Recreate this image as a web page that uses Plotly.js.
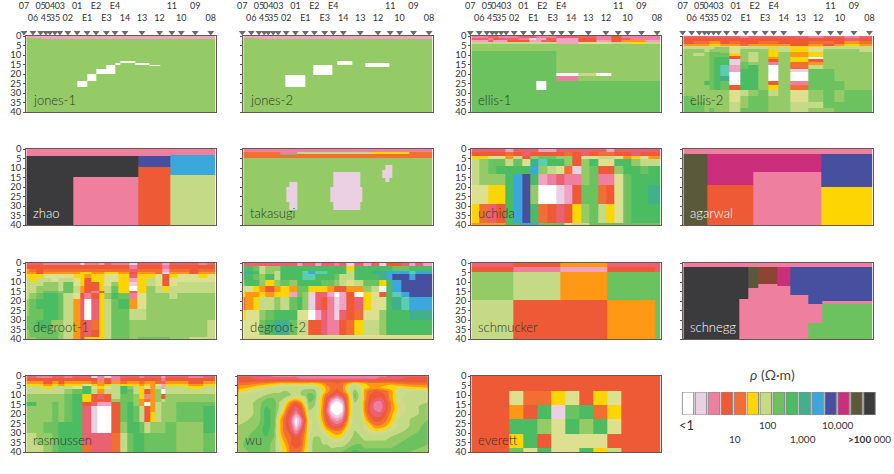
<!DOCTYPE html>
<html><head><meta charset="utf-8">
<script src="https://cdn.plot.ly/plotly-3.0.1.min.js"></script>
<style>html,body{margin:0;padding:0;background:#fff}#c{width:894px;height:474px}</style>
</head><body><div id="c"></div>
<script>
// ---- resistivity classes (letter -> colour), ordered from conductive to resistive
const classLetters = "WLKPRONAYESGHIJTBDMVXC";
const classColors = ["#FFFFFF","#EBD0E3","#F3A2C6","#EE7F9F","#EC6172","#EF5A36","#F36E32","#FF9814","#FDD500","#DDE08E","#C5DA86","#94CB66","#6CC25E","#4CBC63","#42B08B","#5CCDB0","#3BA8DD","#46509F","#CB2E7A","#5A5A3A","#3B3A3C","#8E4433"];

// ---- stations
const stationNames = ["07","06","05","45","04","35","03","02","01","E1","E2","E3","E4","14","13","12","11","10","09","08"];
const stationPos = [0,9,16.7,22,26,31,36,44,53.3,63.3,72.3,82.7,91.3,101.3,118.3,136,148.3,157.7,171.7,187.3];
const stationUpper = ["07","05","04","03","01","E2","E4","11","09"];

// ---- panels: x edges, depth edges, class rows
const jones1X=[0,15,51,61,70,80,89,94,109,123,134,190];
const jones1Y=[0,1,1.5,13,14,15,16,17.5,20,23.5,27,40];
const jones1Rows=["KKKKKKKKKKK","GKKKKKKKKKK","GGGGGGGGGGG","GGGGGGGWGGG","GGGGGGWGWGG","GGGGGWGGGWG","GGGGGWGGGGG","GGGGWWGGGGG","GGGWGGGGGGG","GGWGGGGGGGG","GGGGGGGGGGG"];

const jones2X=[0,15,42,62,70,89,94,109,122,146,190];
const jones2Y=[0,1,1.5,13.2,14,15.3,16.3,20.3,27,40];
const jones2Rows=["KKKKKKKKKK","GKKKKKKKKK","GGGGGGGGGG","GGGGGGWGGG","GGGGGGWGWG","GGGGWGGGWG","GGGGWGGGGG","GGWGGGGGGG","GGGGGGGGGG"];

const ellis1X=[0,8,17,22,27,36,47,58,65,70,75,80,85,97,107,125,140,150,160,175,190];
const ellis1Y=[0,1,2,3,4,8,19.3,21,23.5,28.4,40];
const ellis1Rows=["PPRRPPRRPPPPRRRPOPPP","RRPORRPLKKORKKOPORPP","KKRKKOOKKRROKKOKOAAK","SSSSSSSSSSSSKKEESSYS","GGGGGGGGGGGGGGGGGGGG","HHHHHHHHHHHHGGGGGGGG","HHHHHHHHHHHHWWSWGGGG","HHHHHHHHHHHHPPGGGGGG","HHHHHHHHWWHHHHHHHHHH","HHHHHHHHHHHHHHHHHHHH"];

const ellis2X=[0,10,21,26,31,37,46,57,65,75,85,95,107,125,140,151,162,177,190];
const ellis2Y=[0,1,2.5,4,5,6,7,8.3,9,10.5,11,12.3,13.7,15.4,17.5,19,21,23.5,26,28.4,31.6,34.6,38,40];
const ellis2Rows=["RRRRRRRPRRRRRPRRPR","OOOOOOOOOOOOOOOORO","ONNAAONOONNOONNOAN","AAAYYAANAAAAOAOAYA","SSSSSSEESSYSYYSSSS","SSSSGGESSSSSYESSSS","GGSGGGEGGGYSYEGGGS","GGGHHGEGSGYGAYGGGG","GSGHHHYGSGYGAYGGGG","GGGHHHOGSGYGAYGGGG","GGGHIIOGSGAGYWGGGG","GGGHIILGSGOGYOGGGG","GGGHIILHGGPGNAGGGG","GGGHITKHIGWGNSGGGG","GGGHITKIIGWGLHHGGG","GGGHITWIIGWGWHHGGG","GGGHIJWIIGWGWHHGGG","GGIHIHWIIGOGPHHHGG","GGGHIHOIIGYGNHHHGG","GGGGGGESGHSGEGHGHH","HGGGGGEGHHGGEGHGHH","HHGGGGSGHHGGSSHHHH","HHGHGGSHHHGGSGGHHH"];

const zhaoX=[0,47,112,144,190];
const zhaoY=[0,3,3.5,9.5,13.5,14.5,40];
const zhaoRows=["PPPP","PPPB","XXDB","XXOB","XXOS","XPOS"];

const takasugiX=[0,37,43,46,51,54,87,90,117,119,128,139,142,146,149,167,190];
const takasugiY=[0,1.5,2.5,3,4.5,8.3,11,12.3,15,17.6,20,25,28,32,40];
const takasugiRows=["PPPPPPPPPPPPPPPP","NPPPPSSSSSYYYYYN","NHHHHNNNNNNNNNNN","NNNNNNNNNNNNNNNN","GGGGGGGGGGGGGGGG","GGGGGGGGGGGGLLGG","GGGGGGGGGGGLLLGG","GGGGGGGLGGGLLLGG","GGGGGGGLGGGGLGGG","GGGLLGGLGGGGGGGG","GGLLLGLLLGGGGGGG","GGLLLGLLLGGGGGGG","GGGLLGGLGGGGGGGG","GGGGGGGGGGGGGGGG"];

const uchidaX=[0,8.3,17,25,33.7,42,50.7,59,67.7,76.3,85,93,101.7,110.3,118.7,127,135.3,143.7,152.3,161,169.3,177.7,190];
const uchidaY=[0,1.4,3.5,5.2,9.2,13.2,19,29,39,40];
const uchidaRows=["RRRRKRRRKKRRRRRRKRRRRR","OOOONOROOOONORONNOOROO","YYEEASOGHHGGOEESSEAYEA","SGHHSHEJTIIGOGIEEIIGSS","SGHIIIIBGSENLGHOOGIIHI","SGGGIBDIKPRPPGHPPEHIII","EEYYIBDGWWLKOHHNOEHIIJ","YNROIBDINOROYGHSYEHIII","AAAAIIBBHHHESSHHHHHHHH"];

const agarwalX=[0,24.5,70,138,190];
const agarwalY=[0,2.6,12.3,18.8,20,40];
const agarwalRows=["PPPP","VMMD","VMPD","VOPD","VOPY"];

const degroot1X=[0,3,10,17.3,24.7,31.7,37.3,46.7,53.7,58.3,65.7,73,78.3,85,92.3,103,111.7,120.3,129,136.3,143,151,164,172.3,181.3,190];
const degroot1Y=[0,1.2,3,4.5,6,8,10,12,14.7,16,19,24,28,30,35,39,40];
const degroot1Rows=["RRRPPPPPLPPKRPPLRRRKRRRPR","OOOOOOOOOOOOOOOPOOOPOOOOO","ANONNNNNNNNNNNNRNNNKNNONN","AAOAAAAAYYAAYYAOAANLAAOAA","YYYEEEEYYAYYEEYRYYEOYEEYE","SYSSESSEYOYYEEYKYSEOEEEEE","SSSGGSHEYOOYEGYLYSEOESSSS","SSGGGSHSAOOYSHYWYGSYSSSSS","SSGHHGHSAOPOSHYRYGSSSSSSS","SGHIIHSEOPOYGIHPEGGGSGGGG","GHIIIHSARWRYSHIAEGGGGGGGG","GHHIIHSARWRYSHHSSGGGGGGGG","HHHIIHSARWRYSHHSSGGGGGGGG","HHIIGGSAORNYSHHGGGGGGGGGS","GHHHHGSAOROYSHHGGGGGGGGGS","GGHHHGSAOYYYSHHGHHHHGGSSS"];

const degroot2X=[0,2,10.3,16.3,22,31.3,37.3,46.3,54,58.7,65.3,72,78,84.7,91.3,96,103,111.3,120.7,128.7,136.3,143,149.7,158,166.3,173,180.7,190];
const degroot2Y=[0,1.5,4,6,9,12,15,18,24.5,30,38,40];
const degroot2Rows=["RRRRRRRRKRRKRRPRLRKRLOORKRK","IIHSGGIIIIIIIIIIYIIIIIHHIII","JJISGSIIITBTTIIISIIJJBBBTBB","JIHGISIIITTIIIHSSIIIJBDDBDD","HIIGYGHGIIIIHHGSESHHYIBDDDD","SEYAOAYAHHYYYAOOAAGSWIBDDDD","YAAYAYYKHGLRRKWKOWYEOITBDDD","NAYSSGSHIGLROPLKORYEEIJTBBB","YEEGHIIIEEWKRPLRONEEGIIIJJJ","EEEHIJJHSSOORPPONYSSGIIIIII","EEEEEEEEEEEEEEEEEEEEEEEEEEE"];

const schmuckerX=[0,42,89.3,136.3,184.3,190];
const schmuckerY=[0,2.1,4.8,19.6,40];
const schmuckerRows=["ROARR","OPKOR","GSAHH","SOOAH"];

const scheneggX=[0,56,65.7,75,94,107.3,125,139.3,190];
const scheneggY=[0,2.2,10.8,12.2,13,17,19,20,21.4,21.8,31.5,40];
const scheneggRows=["PPPPPPPP","XXVCMDDD","XXVPMDDD","XXVPPDDD","XXPPPDDD","XXPPPPDD","XPPPPPDD","XPPPPPDP","XPPPPPDH","XPPPPPPH","XPPPPPHH"];

const rasmussenX=[0,9.7,17.3,26.3,32.3,38.3,46.3,55.7,65,71.7,78.3,85,94,101.7,107,113,118.3,124.3,129.7,135,139.7,150.7,162.3,177.3,190];
const rasmussenY=[0,1,2.5,4,5.5,7,9.5,12,13.5,16,19,24,30,36.5,40];
const rasmussenRows=["RPPRRPRRLPLPRRRPRRRKRRPR","OOOOOOOOOPOPOOOOOOOPOOOO","AAOAOAAANAOANAANAANRAAOA","YYAYAYYEYAYSYYYAYAEKYYAY","SSYSSSEIEYESIGSYEASKSSYS","SSSSSGHISASSIHSYOAGWSSSS","GGGGGHIYOROSHHGYPAGOGGGG","GGGGGHIYOOOGHHGANAGSGGGG","IGGHGHIORKKOHIGAWASGGHHH","GGGHGHIRLWWOHIHSOASGGHHI","GGGHGHIRLWWOHIHSOYSGGHHI","GGHHIIIRLWWOGIIHSGGGHGGI","SGGHIIIRRRRNSHIIHHHHHGGH","SSGHIIINRRRNSHIIHHHHHGGH"];

const everettX=[0,38,52,66,80,94,108,122,136.3,150.7,190];
const everettY=[0,7.8,15.2,22.8,30.3,37.7,40];
const everettRows=["OOOOOOOOOO","OENNYEOYEO","OAOILHINYO","OIIGEIGIEO","OYIOEEEEOO","OHEIEEIYSO"];

// wu: smooth model, class values on a grid (0 = white ... 13 = green)
const wuX=[0,10,20,28,36,41,45,49,53,58,63,67,71,76,81,85,89,94,99,104,108,112,117,123,127,132,137,142,147,153,160,172,190];
const wuY=[0,1,2.5,4,6,8,10,12,14,16,18,20,23,26,29,32,36,40];
const wuZ=[
[4,4,4,4,3,3,3,3,3,3,3,3,3,3,3,3,3,3,3,3,3,3,3,3,3,3,3,3,3,4,4,4,4],
[5,5,4,4,4,4,4,4,4,4,3,3,3,3,3,3,3,3,3,3,3,3,3,3,3,3,3,4,4,4,4,5,5],
[5,5,5,5,5,5,5,5,5,5,5,5,5,5,5,5,5,5,5,5,5,5,5,5,5,5,5,5,5,5,5,5,5],
[6,6,6.5,7,7.5,8,8,8,8,8,8,8,8,8,7.5,7,6,6,5.5,6,7,8,8.5,8,7.5,7,7,7,7,7,6.5,6,6],
[7,7.5,8.5,9,9.5,10,10,10,10,10,10,10,10,10,9,8,7,6,5.5,6,8,9.5,10,9,8,7.5,7.5,7.5,8,8.5,8.5,8,7.5],
[8,9,9.5,10,10,10,10.5,10.5,10.5,10.5,10.5,11,11,11,9.5,8.5,7,6,5,6,7.5,9.5,11,9.5,7,6,5.5,5.5,6,7,9,9.5,9.5],
[9.5,10,10,10.5,11,11,11,11,10.5,10.5,10.5,11,12,11.5,9.5,7.5,6,5,4,5,6,8.5,12,9.5,7,5.5,5,5,5.5,7,9,10,10],
[10,10,10.5,11.5,11.5,11,10.5,9.5,8.5,8,8.5,9.5,12,11.5,9,7,5,3,1.5,3,5.5,8,11.5,9.5,7,5,4.5,4,5,7,9,10,10.5],
[10,10,11,12,12,10.5,9.5,8,6.5,5.5,7,9,11.5,11,9,7,4.5,1,0,1,5,8,10.5,9.5,6.5,5,3.5,3,4.5,6.5,9,10,10.5],
[10,10,11,12.5,12,10.5,9,7,5.5,4.5,5.5,8,11,10.5,9,6.5,4,0,0,0,4.5,8,10.5,9.5,6.5,4.5,3,2.5,4.5,6.5,8.5,10,11],
[10,10,11,13,12,10,8.5,6,5,3.5,5,7,10.5,10.5,8.5,6.5,3.5,0,0,0,4.5,8,10.5,9.5,6.5,4.5,3.5,3,4.5,6.5,8.5,10,11],
[10,10,11,13,12,9.5,7.5,5.5,4.5,2.5,4.5,6.5,10.5,10.5,8.5,6.5,4,1,0,1,5,8,10.5,9.5,7,5,4,4,5,7,9,10,11],
[10,10.5,11,13,12,8,6.5,5,3.5,0,2.5,5.5,9,10,9,7,5,3,2,3,5.5,8.5,10.5,10,8,6,5,5,6,7.5,9.5,10.5,11.5],
[10.5,11,11.5,13,12,8,6.5,5,4,0.5,3,6,9,10,9.5,8,6,4.5,4,5,7,9,10.5,10,9,8,6.5,6.5,7,8.5,9.5,10.5,12],
[11,11,12,13,11.5,8,6.5,5.5,4.5,2.5,4.5,6.5,9,10,10,9,8,7,6.5,7,8.5,9.5,10.5,10,9.5,9,8.5,8.5,9,9.5,10,11,12],
[11,11.5,12,12.5,11.5,8.5,7,6,5.5,4.5,5.5,7,9.5,10.5,10.5,10,9.5,8.5,8,8.5,9.5,10,11,10.5,10,10,10,10,10,10.5,11,11.5,12],
[11,12,12,12,11,9,8,7,5.5,5,5.5,7.5,9.5,11,11,10.5,10.5,10,10,10,10.5,11,11.5,11.5,11,11,11,11,11,11,11.5,12,11.5],
[11,11.5,12,12,11,9.5,8.5,7.5,6,6,6.5,8,9.5,11,11,11,11,11,11.5,11.5,12,12.5,13,12.5,12,12,12,12,12,12,12,11.5,10.5]];

// ---- legend
const legendClasses = ["W","L","P","O","N","Y","S","H","I","J","B","D","M","V","X"];
const legendLabels = ["<1","10","100","1,000","10,000"];
const legendLabelAt = [0.5,3.6,6.2,8.9,11.5];

// ---- panel table
const panels=[
 {name:"jones-1",x:jones1X,y:jones1Y,rows:jones1Rows,col:0,row:0,ink:"#333"},
 {name:"jones-2",x:jones2X,y:jones2Y,rows:jones2Rows,col:1,row:0,ink:"#333"},
 {name:"ellis-1",x:ellis1X,y:ellis1Y,rows:ellis1Rows,col:2,row:0,ink:"#333"},
 {name:"ellis-2",x:ellis2X,y:ellis2Y,rows:ellis2Rows,col:3,row:0,ink:"#333"},
 {name:"zhao",x:zhaoX,y:zhaoY,rows:zhaoRows,col:0,row:1,ink:"#fff"},
 {name:"takasugi",x:takasugiX,y:takasugiY,rows:takasugiRows,col:1,row:1,ink:"#333"},
 {name:"uchida",x:uchidaX,y:uchidaY,rows:uchidaRows,col:2,row:1,ink:"#333"},
 {name:"agarwal",x:agarwalX,y:agarwalY,rows:agarwalRows,col:3,row:1,ink:"#fff"},
 {name:"degroot-1",x:degroot1X,y:degroot1Y,rows:degroot1Rows,col:0,row:2,ink:"#333"},
 {name:"degroot-2",x:degroot2X,y:degroot2Y,rows:degroot2Rows,col:1,row:2,ink:"#333"},
 {name:"schmucker",x:schmuckerX,y:schmuckerY,rows:schmuckerRows,col:2,row:2,ink:"#333"},
 {name:"schnegg",x:scheneggX,y:scheneggY,rows:scheneggRows,col:3,row:2,ink:"#fff"},
 {name:"rasmussen",x:rasmussenX,y:rasmussenY,rows:rasmussenRows,col:0,row:3,ink:"#333"},
 {name:"wu",x:wuX,y:wuY,z:wuZ,col:1,row:3,ink:"#333",left:238.3},
 {name:"everett",x:everettX,y:everettY,rows:everettRows,col:2,row:3,ink:"#333"}
];

const W=894,H=474,pw=189.4,ph=76;
const colLeft=[26.3,243.3,471.3,683.3], rowTop=[36,149,263,376];
const stationShift=[2.3,1,1,0.6];
const fontFam='Lato, "Open Sans", sans-serif';
const N=classColors.length;
const scaleOf=cols=>{const s=[];cols.forEach((c,i)=>{s.push([i/N,c]);s.push([(i+1)/N,c]);});return s;};
const scale=scaleOf(classColors);
const smoothScale=scaleOf(classColors.map(c=>c==="#DDE08E"?"#CEDC8A":c));

const traces=[],annotations=[],layout={width:W,height:H,margin:{l:0,r:0,t:0,b:0},paper_bgcolor:"#fff",plot_bgcolor:"#fff",showlegend:false,font:{family:fontFam,color:"#444"},annotations};
const frame="rgba(80,55,55,0.85)";

panels.forEach((p,i)=>{
  const k=i+1, xa="x"+(k>1?k:""), ya="y"+(k>1?k:"");
  const left=p.left||colLeft[p.col], top=rowTop[p.row];
  layout["xaxis"+(k>1?k:"")]={domain:[left/W,(left+pw)/W],range:[0,190],anchor:ya,showgrid:false,zeroline:false,showticklabels:false,ticks:"",showline:true,mirror:true,linecolor:frame,linewidth:1,fixedrange:true};
  layout["yaxis"+(k>1?k:"")]={domain:[1-(top+ph)/H,1-top/H],range:[40,0],anchor:xa,showgrid:false,zeroline:false,tickmode:"array",tickvals:[0,5,10,15,20,25,30,35,40],ticktext:["0","5","10","15","20","25","30","35","40"],showticklabels:p.col%2===0,ticks:"outside",ticklen:2,tickcolor:"#555",tickwidth:1,tickfont:{size:9.5,family:fontFam,color:"#333"},showline:true,mirror:true,linecolor:frame,linewidth:1,fixedrange:true};
  if(p.z){
    traces.push({type:"contour",x:p.x,y:p.y,z:p.z,xaxis:xa,yaxis:ya,autocontour:false,contours:{start:0.5,end:N-1.5,size:1,coloring:"fill",showlines:false},line:{width:0},colorscale:smoothScale,zmin:-0.5,zmax:N-0.5,showscale:false,hoverinfo:"skip"});
  } else {
    const z=p.rows.map(r=>r.split("").slice(0,p.x.length-1).map(c=>classLetters.indexOf(c)));
    traces.push({type:"heatmap",x:p.x,y:p.y,z,xaxis:xa,yaxis:ya,zsmooth:false,colorscale:scale,zmin:-0.5,zmax:N-0.5,showscale:false,hoverinfo:"skip"});
  }
  annotations.push({xref:xa,yref:ya,x:4.5,y:33.8,text:p.name,showarrow:false,xanchor:"left",yanchor:"middle",font:{size:13,family:fontFam,color:p.ink,weight:300}});
});

// station strips above the first row, on their own axes so that every point is in range
let ax=panels.length+1;
colLeft.forEach((left,c)=>{
  const xa="x"+ax, ya="y"+ax, pad=12;
  layout["xaxis"+ax]={domain:[(left-pad)/W,(left+pw+pad)/W],range:[-pad,190+pad],anchor:ya,visible:false,fixedrange:true};
  layout["yaxis"+ax]={domain:[1-36/H,1],range:[36,0],anchor:xa,visible:false,fixedrange:true};
  const xs=stationPos.map(v=>v-stationShift[c]);
  traces.push({type:"scatter",mode:"markers",x:xs,y:xs.map(()=>32.5),xaxis:xa,yaxis:ya,marker:{symbol:"triangle-down",size:6,color:"#6a6a6a"},hoverinfo:"skip"});
  traces.push({type:"scatter",mode:"text",x:xs,y:stationNames.map(n=>stationUpper.includes(n)?7:19),text:stationNames,textposition:"middle center",textfont:{size:9,family:fontFam,color:"#333"},xaxis:xa,yaxis:ya,hoverinfo:"skip"});
  ax++;
});

// legend swatches as bars on their own axes
const lk=ax;
layout["xaxis"+lk]={domain:[681.5/W,876/W],range:[-0.5,14.5],anchor:"y"+lk,visible:false,fixedrange:true};
layout["yaxis"+lk]={domain:[1-415/H,1-392/H],range:[0,1],anchor:"x"+lk,visible:false,fixedrange:true};
traces.push({type:"bar",x:legendClasses.map((c,i)=>i),y:legendClasses.map(()=>1),width:0.88,xaxis:"x"+lk,yaxis:"y"+lk,
  marker:{color:legendClasses.map(c=>classColors[classLetters.indexOf(c)]),line:{color:"#8a8a8a",width:1}},hoverinfo:"skip"});
legendLabels.forEach((t,i)=>{
  annotations.push({xref:"x"+lk,yref:"paper",x:i===0?-0.15:legendLabelAt[i],y:1-(i%2?439:425)/H,text:t,showarrow:false,xanchor:"center",yanchor:"middle",font:{size:i===0?13:10,family:fontFam,color:"#333"}});
});
annotations.push({xref:"paper",yref:"paper",x:846/W,y:1-439/H,text:"<b>&gt;100</b> 000",showarrow:false,xanchor:"left",yanchor:"middle",font:{size:10,family:fontFam,color:"#333"}});
annotations.push({xref:"paper",yref:"paper",x:772/W,y:1-374/H,text:"<i>ρ</i> (Ω·m)",showarrow:false,xanchor:"center",yanchor:"middle",font:{size:14,family:fontFam,color:"#444"}});

Plotly.newPlot("c",traces,layout,{staticPlot:true,displayModeBar:false});
</script></body></html>
